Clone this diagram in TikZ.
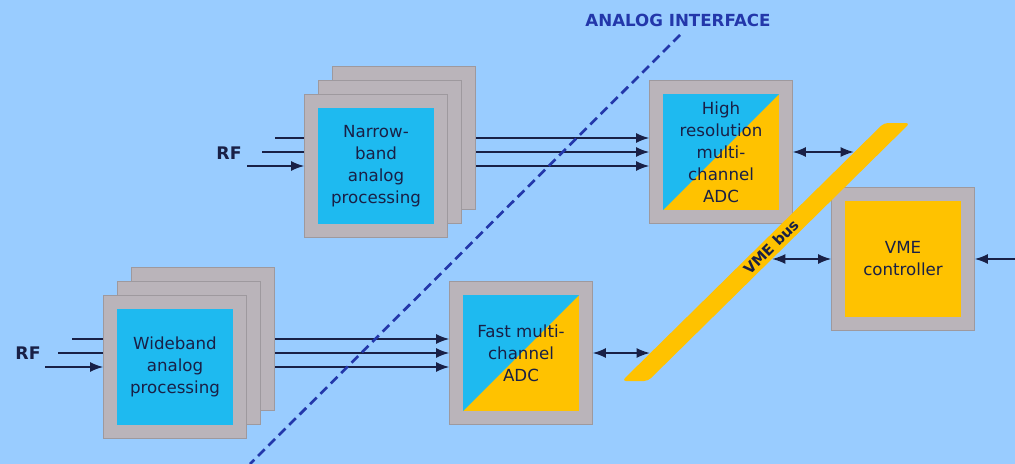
\documentclass[tikz,border=0pt]{standalone}
\usepackage{fontspec}
\setmainfont{DejaVu Sans}
\usetikzlibrary{arrows.meta,positioning,backgrounds}
\definecolor{sky}{RGB}{153,204,255}
\definecolor{boxgray}{RGB}{186,180,186}
\definecolor{coreblue}{RGB}{30,186,240}
\definecolor{busyellow}{RGB}{255,194,0}
\definecolor{ink}{RGB}{25,32,70}
\definecolor{ifblue}{RGB}{35,55,170}
\begin{document}
\begin{tikzpicture}
            [x=0.75pt, y=-0.75pt,
             frame/.style={rectangle,fill=boxgray,draw=boxgray!85!black,line width=0.4pt,minimum size=107pt,inner sep=0pt},
             core/.style={rectangle,fill=coreblue,minimum size=87pt,inner sep=0pt,align=center,text=ink,font=\fontsize{12.5}{16.5}\selectfont},
             split/.style={core,fill=busyellow,path picture={\fill[coreblue] (path picture bounding box.north west) -- (path picture bounding box.north east) -- (path picture bounding box.south west) -- cycle;}},
             link/.style={line width=1.4pt,draw=ink,-{Latex[length=10pt,width=7.5pt]}},
             duplex/.style={link,{Latex[length=10pt,width=7.5pt]}-{Latex[length=10pt,width=7.5pt]}}]
            \useasboundingbox (0,0) rectangle (1015,464);

            % narrowband stack, back to front
            \node[frame] (nb3) at (404,138) {};
            \node[frame] (nb2) at (390,152) {};
            \node[frame] (nb1) at (376,166) {};
            \node[core] (nbc) at (nb1) {Narrow-\\band\\analog\\processing};

            % wideband stack, back to front
            \node[frame] (wb3) at (203,339) {};
            \node[frame] (wb2) at (189,353) {};
            \node[frame] (wb1) at (175,367) {};
            \node[core] (wbc) at (wb1) {Wideband\\analog\\processing};

            % digitisers and controller
            \node[frame] (hr) at (721,152) {};
            \node[split] (hrc) at (hr) {High\\resolution\\multi-\\channel\\ADC};
            \node[frame] (fa) at (521,353) {};
            \node[split] (fac) at (fa) {Fast multi-\\channel\\ADC};
            \node[frame] (vc) at (903,259) {};
            \node[core, fill=busyellow] (vcc) at (vc) {VME\\controller};

            \node[font=\bfseries\fontsize{13}{15}\selectfont, text=ink] (rfn) at (229,153) {RF};
            \node[font=\bfseries\fontsize{13}{15}\selectfont, text=ink] (rfw) at (28,353) {RF};

            \coordinate (nbin3) at (275,138);
            \coordinate (nbin2) at (262,152);
            \coordinate (nbin1) at (247,166);
            \coordinate (wbin3) at (72,339);
            \coordinate (wbin2) at (58,353);
            \coordinate (wbin1) at (45,367);

            \begin{scope}[on background layer]
                \fill[sky] (0,0) rectangle (1015,464);
                \foreach \i in {1,2,3} {
                    \draw[link] (nbin\i) -- (nb\i.west);
                    \draw[link] (nb\i.east) -- (nb\i.east -| hr.west);
                    \draw[link] (wbin\i) -- (wb\i.west);
                    \draw[link] (wb\i.east) -- (wb\i.east -| fa.west);
                }
            \end{scope}

            % VME bus
            \fill[busyellow, rounded corners=3pt] (622,381) -- (648,381) -- (910,123) -- (884,123) -- cycle;
            \node[rotate=45, text=ink, font=\bfseries\fontsize{11}{13}\selectfont, inner sep=1pt] (buslabel) at (771,247) {VME bus};
            \coordinate (tap1) at (854,152);
            \coordinate (tap2) at (650,353);
            \coordinate (tap3) at (772,259);
            \coordinate (ext) at (1015,259);

            \draw[duplex] (hr.east) -- (tap1);
            \draw[duplex] (fa.east) -- (tap2);
            \draw[duplex] (tap3) -- (vc.west);
            \draw[link] (ext) -- (vc.east);

            % analog interface boundary
            \coordinate (ifa) at (680,35);
            \coordinate (ifb) at (250,464);
            \draw[ifblue, line width=2pt, dash pattern=on 7pt off 4pt] (ifa) -- (ifb);
            \node[text=ifblue, font=\bfseries\fontsize{12.5}{15}\selectfont] (iflabel) at (678,20) {ANALOG INTERFACE};
         \end{tikzpicture}
\end{document}
